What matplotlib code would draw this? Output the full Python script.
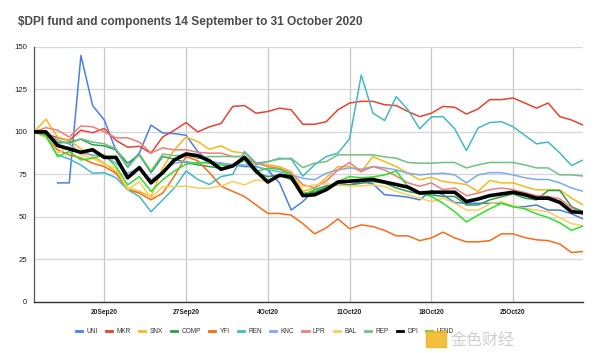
"""$DPI fund and components, 14 Sep - 31 Oct 2020"""

#%% Importing modules
import numpy as np
import pandas as pd
import matplotlib
matplotlib.use('Agg')
import matplotlib.pyplot as plt
import matplotlib.patches as mpatches

plt.rcParams['font.family'] = ['Liberation Sans', 'DejaVu Sans']

#%% Values (index = 100 at start), one per day
dates = pd.date_range('2020-09-14', '2020-10-31', freq='D')

uni = [np.nan, np.nan, 70, 70, 145, 115.5, 107, 89, 79.6, 87.6, 104, 99.4, 99, 98, 88.4, 82.5,
       81.6, 80.6, 79.6, 79.6, 77.6, 70, 54, 59, 66, 68.2, 69.8, 68.8, 70.8, 69.4, 63, 62.4,
       61.6, 60, 65.5, 63, 58.4, 58, 58, 58, 58, 56, 56, 57, 54, 54, 51.8, 48.8]
mkr = [100, 99, 96.5, 95, 101, 99.5, 102, 95, 91, 91.5, 87.5, 97, 101, 105.5, 100, 103,
       105, 115, 115.5, 111, 112, 114, 113, 104.5, 104.5, 106, 113, 117, 118, 118, 116, 115.5,
       112, 109, 111, 115, 114.5, 110.5, 113.5, 119, 119, 120, 117, 114, 117, 109, 107, 104]
snx = [100, 107.5, 97, 95, 90, 85.5, 81.6, 76.6, 67, 65, 62, 79, 89.4, 97, 94.3, 89.8,
       91.8, 88.4, 87.5, 81.6, 80.6, 79.6, 76.6, 65, 67, 73, 79.6, 79.6, 76.6, 85.5, 82.5, 79.6,
       75.7, 71.8, 73.3, 70.8, 70, 69, 65, 71.4, 70, 70, 67.8, 65.9, 65.9, 65.9, 61, 57]
comp = [100, 99, 93.5, 94, 95.7, 92.4, 91.8, 89.4, 81.6, 86.5, 76, 85.5, 84, 82, 80.6, 79.6,
        78.6, 79.6, 83.5, 75.7, 73.7, 74.7, 71.8, 63.9, 64.5, 67.8, 68.8, 68.8, 69.8, 70.8, 69.8, 67,
        65, 63.5, 63, 62, 62, 57, 57, 60, 61.8, 63.5, 61, 60, 65.5, 65.5, 56, 53]
yfi = [100, 97, 89.4, 86.5, 84.7, 81.6, 79.6, 75.7, 66, 64, 60, 64, 74, 85.5, 83, 76,
       68, 65, 62, 57, 52, 52, 51, 46, 40, 43.5, 48.8, 43, 45.3, 44.3, 42, 38.8,
       38.8, 36, 37.6, 41, 37.6, 35.3, 35.3, 36, 40, 40, 37.8, 36.5, 36, 34, 29, 29.6]
ren = [100, 97, 86.5, 84, 80.5, 75.7, 76, 73, 66, 62, 53, 60, 67, 77, 72, 69,
       73.7, 75, 88.4, 81.6, 82.5, 84.5, 84, 74, 80.6, 85.5, 87.5, 96, 133.5, 111, 106.7, 120.8,
       113, 101.8, 108.8, 109, 101.8, 89, 102.3, 105.5, 106, 103, 98, 93, 94, 87.6, 80.2, 83.5]
knc = [100, 99, 95, 93, 87.5, 86.5, 85.5, 81.6, 75.7, 78.6, 71.8, 76.6, 81.6, 82.5, 81.6, 82.5,
       81.6, 80.6, 80.6, 79.6, 77.6, 76.6, 74.7, 72.7, 71.8, 75.7, 77.6, 78.8, 78, 79.6, 78.8, 77.6,
       75.7, 74.7, 75.3, 75.7, 74.7, 70, 74.7, 76, 76, 74.7, 73, 72, 72, 70, 67, 65]
lpr = [100, 102.5, 101, 97, 103.5, 103, 100, 96.5, 96.5, 94, 87.6, 90.6, 89.4, 89.5, 88, 87.5,
       87.5, 85.5, 85.5, 81.6, 79.6, 78.6, 75.7, 69, 67, 71, 77.6, 82, 76.6, 79.6, 77.6, 74,
       70, 68, 70, 66, 67, 62.4, 64, 66, 67, 66, 64.3, 62.4, 62, 60.6, 55.3, 51.2]
bal = [100, 97, 87.5, 91.4, 86.5, 84.5, 81, 78.6, 65.9, 70.8, 61, 67.8, 67.8, 68.2, 66.9, 66.9,
       68.2, 70.8, 68.8, 71.8, 70.8, 73.7, 74.7, 67.8, 68.8, 69.4, 68.8, 68.2, 68.2, 68.8, 67.8, 65,
       63, 61, 59, 61, 58, 54, 54, 57.6, 59, 56.5, 55, 54, 53, 49.4, 46, 44.7]
rep = [100, 98, 95, 93, 96, 94, 93, 90, 79, 87, 77, 87, 86, 86.5, 84.5, 85.5,
       85.5, 85.5, 85.5, 80.6, 82.5, 84, 84.5, 79, 81.6, 82.5, 86.5, 86.5, 86.5, 86.5, 85.3, 84.5,
       82, 81.6, 81.6, 82, 82, 78.8, 80.6, 82, 82, 82, 80.6, 78.8, 78.8, 74.7, 74.7, 74]
dpi = [100, 100, 92, 90, 88, 89.5, 85, 85, 73, 79, 70, 76, 83.5, 87, 86, 83,
       78, 80, 85, 77, 70.5, 74.5, 73.5, 62.5, 63, 66, 70.5, 71, 71.5, 72, 70.5, 69,
       67.5, 64, 64.5, 64.5, 64.5, 59, 60.5, 62.5, 63.5, 64.5, 63, 61, 61, 58.5, 53, 52.5]
lend = [100, 98, 85.5, 88.4, 83.5, 84.5, 86.5, 79.6, 68.8, 73.7, 65, 71.8, 77, 81, 82, 81.6,
        80.6, 79.6, 83.5, 76.6, 78.6, 78, 74.7, 63, 66, 67, 70.8, 73.7, 73, 73.5, 74.7, 77,
        67.8, 64, 62, 58, 53, 47, 51, 54.7, 58, 56, 54.7, 51.8, 49.6, 46.5, 42, 44.7]

names = ['UNI', 'MKR', 'SNX', 'COMP', 'YFI', 'REN', 'KNC', 'LPR', 'BAL', 'REP', 'DPI', 'LEND']
series = [uni, mkr, snx, comp, yfi, ren, knc, lpr, bal, rep, dpi, lend]
colors = ['#4a7fe6', '#e5432f', '#f9b81b', '#2f9e4c', '#fa6b15', '#44b9c4',
          '#7ea9f2', '#ee7f78', '#f8cf5a', '#71c083', '#000000', '#2de02d']

tick_dates = pd.to_datetime(['2020-09-20', '2020-09-27', '2020-10-04',
                             '2020-10-11', '2020-10-18', '2020-10-25'])
tick_labels = ['20Sep20', '27Sep20', '4Oct20', '11Oct20', '18Oct20', '25Oct20']
y_ticks = [0, 25, 50, 75, 100, 125, 150]

#%% Plot
df = pd.DataFrame(dict(zip(names, series)), index=dates)

fig = plt.figure(figsize=(6, 3.53), dpi=100)
ax = fig.add_axes([0.057, 0.145, 0.915, 0.722])

for name, col in zip(names, colors):
    lw = 2.6 if name == 'DPI' else 1.1
    ax.plot(df.index, df[name], color=col, lw=lw, label=name, zorder=3 if name == 'DPI' else 2)

ax.set_xlim(dates[0], dates[-1])
ax.set_ylim(0, 150)
ax.set_yticks(y_ticks)
ax.set_xticks(tick_dates)
ax.set_xticklabels(tick_labels, fontsize=4.8, fontweight='bold', color='#222222')
ax.tick_params(axis='y', labelsize=5.6, colors='#222222', length=0, pad=5)
ax.tick_params(axis='x', length=0, pad=5)
ax.grid(axis='y', color='#d6d6d6', lw=0.9)
ax.grid(axis='x', color='#c6c6c6', lw=0.9)
ax.set_axisbelow(True)
for s in ['top', 'right']:
    ax.spines[s].set_visible(False)
ax.spines['left'].set_color('#555555')
ax.spines['bottom'].set_color('#333333')
ax.spines['left'].set_linewidth(0.9)
ax.spines['bottom'].set_linewidth(1.0)

fig.text(18 / 600, 1 - 22 / 353, r'\$DPI fund and components 14 September to 31 October 2020',
         fontsize=8.6, fontweight='bold', color='#4a4a4a', va='center', ha='left')

# legend sits left of centre in the reference (watermark covers its end)
leg = ax.legend(loc='center left', bbox_to_anchor=((76 - 34) / 549, -30 / 255), ncol=12,
                frameon=False, borderpad=0, borderaxespad=0, fontsize=4.7,
                handlelength=0.95, handletextpad=0.65, columnspacing=1.25)
for h in leg.get_lines():
    h.set_linewidth(2.0)
for t in leg.get_texts():
    t.set_color('#333333')

# watermark in the lower right corner
fig.patches.append(mpatches.Rectangle((426 / 600, 1 - 347 / 353), 20 / 600, 16 / 353,
                                      transform=fig.transFigure, color='#f3b31c', alpha=0.85))
fig.text(450 / 600, 1 - 340 / 353, '金色财经', fontsize=11.5, color='#cfcfcf',
         family=['Noto Sans CJK SC', 'DejaVu Sans'], va='center', ha='left')

plt.savefig('out.png', dpi=100)
